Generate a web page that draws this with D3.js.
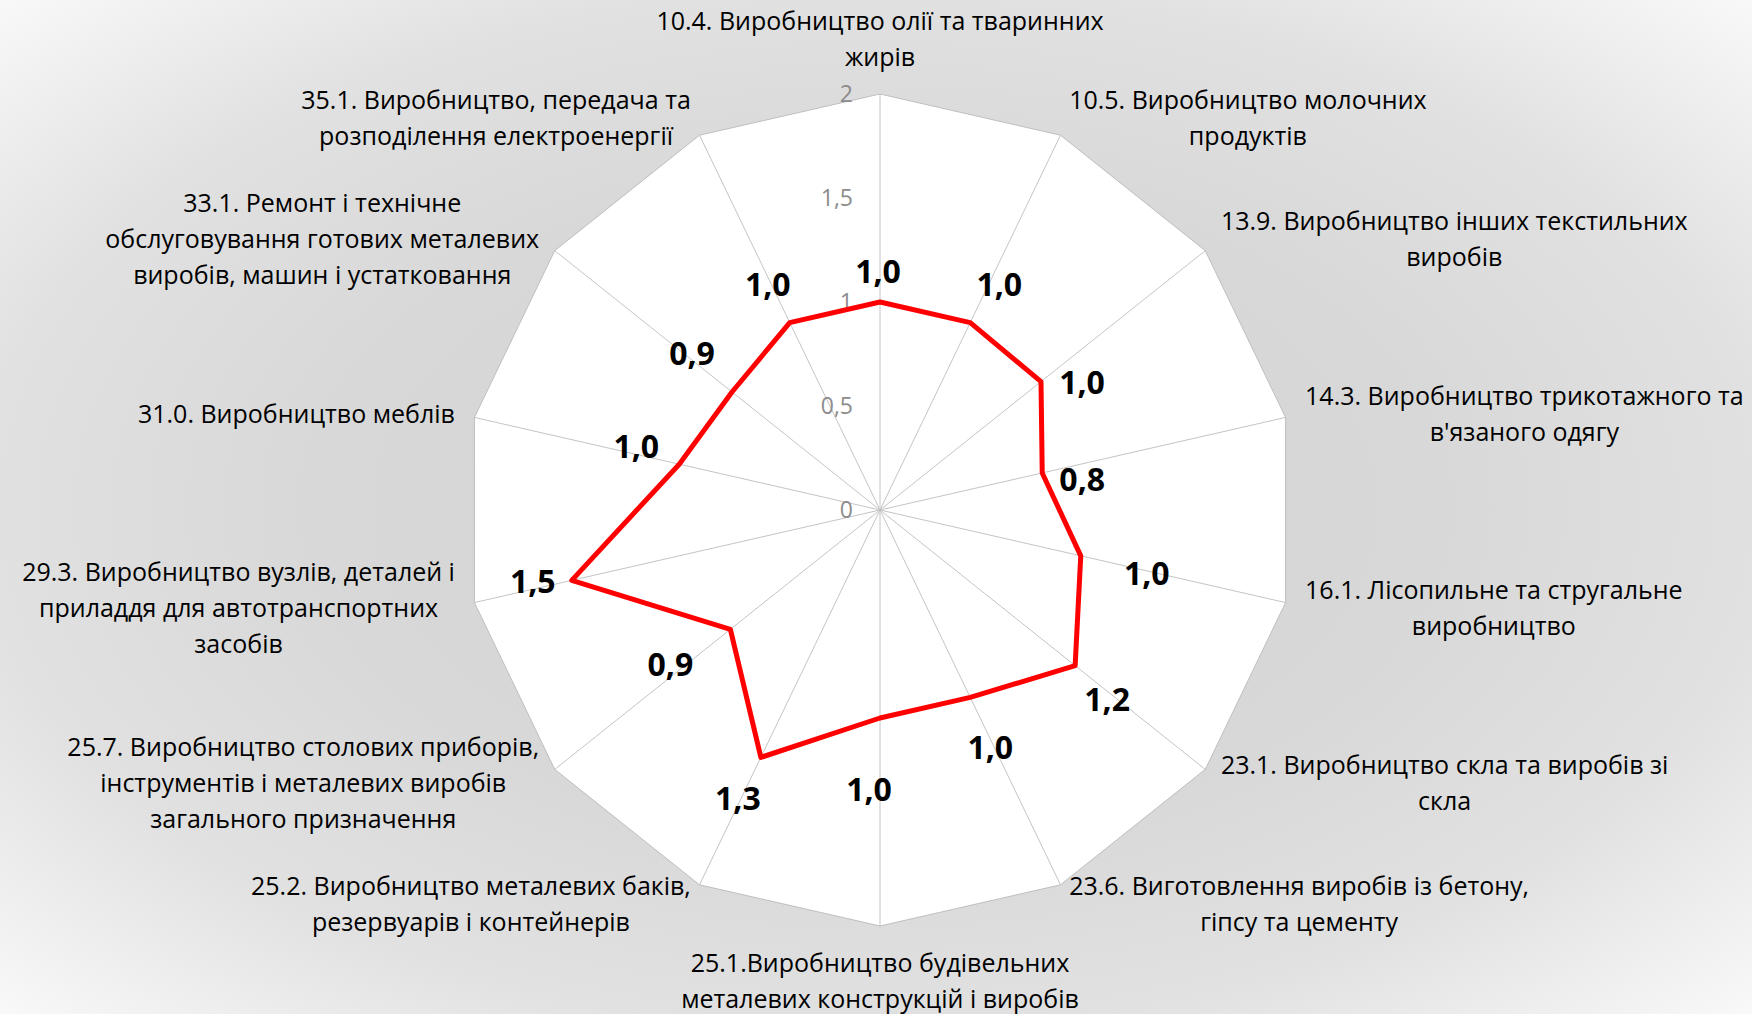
<!DOCTYPE html>
<html>
<head>
<meta charset="utf-8">
<script src="https://cdn.jsdelivr.net/npm/d3@7"></script>
<style>
  html, body { margin: 0; padding: 0; background: #fff; }
  svg { display: block; }
</style>
</head>
<body>
<svg width="1752" height="1014"></svg>
<script>
// Categories (axis names), each split into the lines shown on the chart.
var categories = [
  ["10.4. Виробництво олії та тваринних", "жирів"],
  ["10.5. Виробництво молочних", "продуктів"],
  ["13.9. Виробництво інших текстильних", "виробів"],
  ["14.3. Виробництво трикотажного та", "в'язаного одягу"],
  ["16.1. Лісопильне та стругальне", "виробництво"],
  ["23.1. Виробництво скла та виробів зі", "скла"],
  ["23.6. Виготовлення виробів із бетону,", "гіпсу та цементу"],
  ["25.1.Виробництво будівельних", "металевих конструкцій і виробів"],
  ["25.2. Виробництво металевих баків,", "резервуарів і контейнерів"],
  ["25.7. Виробництво столових приборів,", "інструментів і металевих виробів", "загального призначення"],
  ["29.3. Виробництво вузлів, деталей і", "приладдя для автотранспортних", "засобів"],
  ["31.0. Виробництво меблів"],
  ["33.1. Ремонт і технічне", "обслуговування готових металевих", "виробів, машин і устатковання"],
  ["35.1. Виробництво, передача та", "розподілення електроенергії"]
];

// Series values (index).
var values = [1.0, 1.0, 0.99, 0.8, 0.99, 1.2, 1.0, 1.0, 1.32, 0.92, 1.52, 0.99, 0.91, 1.0];

// Radial axis ticks.
var ticks = [0, 0.5, 1, 1.5, 2];

// Nudge (px) from each point to the centre of its value label.
var valueLabelNudge = [
  [-2, -31], [29, -38], [41, 1], [40, 6], [66, 18], [32, 34], [20, 50],
  [-11, 71], [-23, 41], [-60, 35], [-39, 1], [-43, -18], [-40, -39], [-22, -38]
];

var svg = d3.select("svg"),
    width = +svg.attr("width"),
    height = +svg.attr("height");

var cx = 880, cy = 510, R = 416;
var n = categories.length, step = 2 * Math.PI / n;
var r = d3.scaleLinear().domain([0, 2]).range([0, R]);

// Ukrainian number format: comma as decimal mark.
var ua = d3.formatLocale({decimal: ",", thousands: " ", grouping: [3], currency: ["", " грн"]});
var fmtTick = ua.format("~g"),
    fmtValue = ua.format(".1f");

var font = "'Open Sans', 'Noto Sans', sans-serif";

// Background gradient.
var grad = svg.append("defs").append("radialGradient")
    .attr("id", "bg")
    .attr("cx", "50%").attr("cy", "50%").attr("r", "71%");
[[0, "#d3d3d3"], [0.45, "#d8d8d8"], [0.72, "#e1e1e1"], [1, "#f9f9f9"]].forEach(function(s) {
  grad.append("stop").attr("offset", s[0]).attr("stop-color", s[1]);
});
svg.append("rect")
    .attr("width", width)
    .attr("height", height)
    .attr("fill", "url(#bg)");

var g = svg.append("g").attr("transform", "translate(" + cx + "," + cy + ")");

function px(i, v) { return r(v) * Math.sin(i * step); }
function py(i, v) { return -r(v) * Math.cos(i * step); }

var radial = d3.lineRadial()
    .angle(function(d, i) { return i * step; })
    .radius(function(d) { return r(d); })
    .curve(d3.curveLinearClosed);

// Outer ring (plot area).
g.append("path")
    .datum(categories.map(function() { return d3.max(ticks); }))
    .attr("d", radial)
    .attr("fill", "#fff")
    .attr("stroke", "#bfbfbf")
    .attr("stroke-width", 1);

// Spokes.
g.selectAll(".spoke")
    .data(categories)
  .enter().append("line")
    .attr("class", "spoke")
    .attr("x1", 0).attr("y1", 0)
    .attr("x2", function(d, i) { return px(i, 2); })
    .attr("y2", function(d, i) { return py(i, 2); })
    .attr("stroke", "#c4c4c4")
    .attr("stroke-width", 1);

// Tick labels on the vertical axis.
g.selectAll(".tick")
    .data(ticks)
  .enter().append("text")
    .attr("class", "tick")
    .attr("x", -27)
    .attr("y", function(d) { return -r(d); })
    .attr("dy", "0.35em")
    .attr("text-anchor", "end")
    .attr("font-family", font)
    .attr("font-size", 23)
    .attr("fill", "#8c8c8c")
    .text(fmtTick);

// Series line.
g.append("path")
    .datum(values)
    .attr("d", radial)
    .attr("fill", "none")
    .attr("stroke", "#ff0000")
    .attr("stroke-width", 5)
    .attr("stroke-linejoin", "round");

// Value labels.
g.selectAll(".vlabel")
    .data(values)
  .enter().append("text")
    .attr("class", "vlabel")
    .attr("x", function(d, i) { return px(i, d) + valueLabelNudge[i][0]; })
    .attr("y", function(d, i) { return py(i, d) + valueLabelNudge[i][1]; })
    .attr("dy", "0.36em")
    .attr("text-anchor", "middle")
    .attr("font-family", font)
    .attr("font-weight", "bold")
    .attr("font-size", 32)
    .attr("fill", "#000")
    .text(fmtValue);

// Category labels, placed just outside the ring vertices.
var lineH = 36, pad = 20;
categories.forEach(function(lines, i) {
  var a = i * step, s = Math.sin(a), c = Math.cos(a);
  var ax = px(i, 2) + pad * s,
      ay = py(i, 2) - pad * c;
  var label = g.append("g").attr("class", "clabel");
  var texts = lines.map(function(t) {
    return label.append("text")
        .attr("font-family", font)
        .attr("font-size", 25)
        .attr("fill", "#000")
        .attr("text-anchor", "middle")
        .attr("dominant-baseline", "central")
        .text(t);
  });
  var w = d3.max(texts, function(t) { return t.node().getComputedTextLength(); });
  var h = lines.length * lineH;
  var bx, by;
  if (Math.abs(s) < 0.1) {
    bx = ax;
    by = c > 0 ? ay - h / 2 : ay + h / 2 - 2;
  } else {
    bx = s > 0 ? ax + w / 2 : ax - w / 2;
    by = ay;
  }
  texts.forEach(function(t, k) {
    t.attr("x", bx).attr("y", by + (k - (lines.length - 1) / 2) * lineH);
  });
});
</script>
</body>
</html>
